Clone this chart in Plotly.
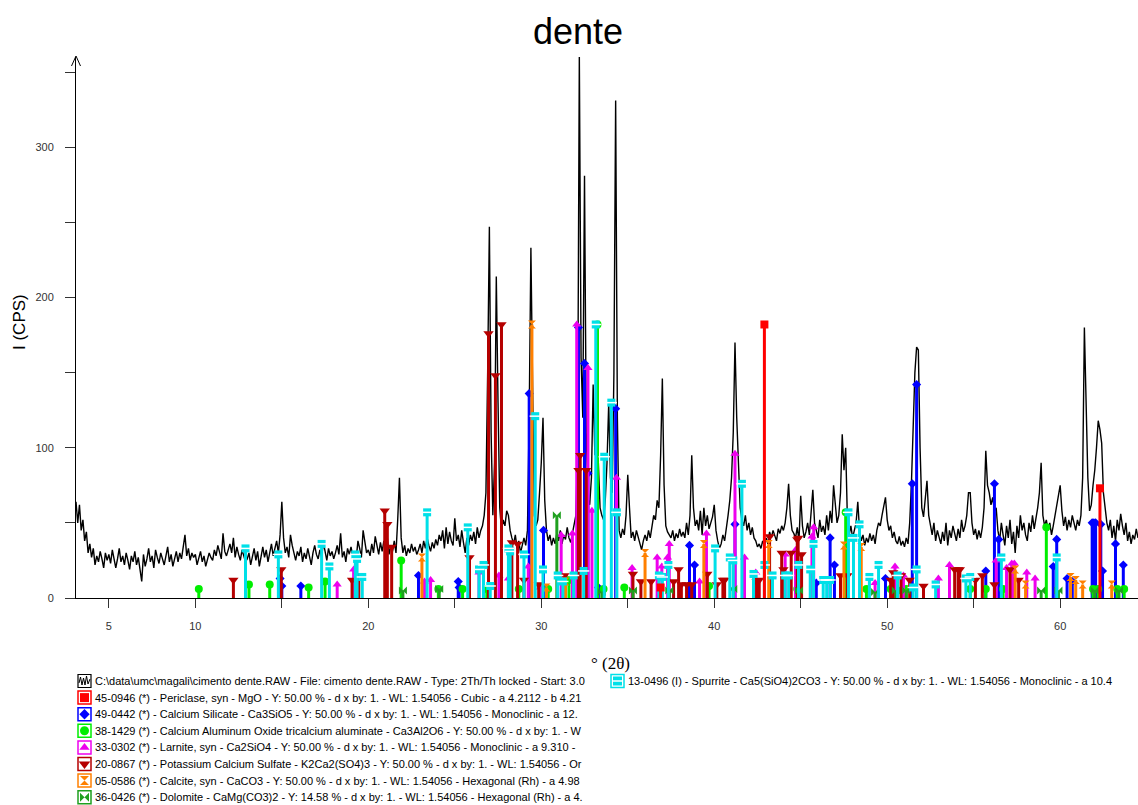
import plotly.graph_objects as go

# ---------------- data ----------------
SCAN_START = 3.0   # deg 2theta
SCAN_STEP = 0.1

intensity = (
    [58, 64, 50, 62, 45, 52, 38, 44, 30, 36] +      # 3.x
    [27, 33, 22, 28, 24, 31, 26, 20, 30, 25] +      # 4.x
    [29, 23, 32, 27, 20, 26, 33, 24, 28, 22] +      # 5.x
    [30, 25, 19, 28, 24, 31, 22, 27, 20, 11] +      # 6.x
    [29, 21, 26, 33, 24, 28, 20, 32, 27, 23] +      # 7.x
    [30, 25, 22, 28, 34, 24, 29, 21, 27, 31] +      # 8.x
    [24, 30, 26, 35, 42, 28, 33, 25, 30, 27] +      # 9.x
    [29, 22, 27, 31, 24, 28, 21, 26, 30, 27] +      # 10.x
    [25, 32, 28, 35, 30, 26, 43, 31, 28, 33] +      # 11.x
    [36, 30, 40, 27, 34, 29, 25, 32, 28, 24] +      # 12.x
    [26, 30, 22, 28, 33, 25, 31, 21, 29, 34] +      # 13.x
    [27, 32, 24, 30, 36, 28, 33, 38, 30, 42] +      # 14.x
    [64, 40, 30, 34, 27, 42, 35, 29, 25, 31] +      # 15.x
    [28, 34, 24, 30, 26, 33, 28, 22, 30, 35] +      # 16.x
    [29, 26, 32, 27, 37, 30, 25, 33, 28, 31] +      # 17.x
    [26, 30, 35, 29, 43, 27, 31, 24, 33, 29] +      # 18.x
    [34, 28, 31, 26, 38, 33, 27, 45, 36, 30] +      # 19.x
    [32, 28, 36, 30, 41, 34, 29, 37, 31, 38] +      # 20.x
    [33, 40, 29, 35, 31, 38, 30, 52, 80, 40] +      # 21.x
    [30, 35, 28, 33, 30, 36, 31, 34, 29, 32] +      # 22.x
    [36, 30, 38, 33, 40, 35, 31, 37, 33, 39] +      # 23.x
    [35, 42, 38, 45, 33, 47, 36, 44, 38, 35] +      # 24.x
    [53, 38, 42, 34, 45, 37, 30, 40, 35, 42] +      # 25.x
    [38, 44, 36, 47, 40, 45, 48, 55, 70, 150] +     # 26.x
    [247, 110, 55, 90, 214, 130, 60, 45, 52, 48] +  # 27.x
    [58, 55, 45, 40, 36, 42, 33, 38, 30, 35] +      # 28.x
    [40, 35, 45, 120, 233, 140, 55, 48, 52, 70] +   # 29.x
    [90, 120, 65, 45, 38, 42, 35, 40, 36, 43] +     # 30.x
    [38, 45, 36, 42, 39, 47, 40, 37, 44, 48] +      # 31.x
    [55, 100, 361, 160, 120, 281, 110, 66, 62, 80] +  # 32.x
    [142, 95, 165, 90, 60, 55, 52, 65, 90, 130] +   # 33.x
    [80, 70, 150, 331, 120, 45, 40, 46, 42, 55] +   # 34.x
    [82, 60, 40, 44, 38, 45, 40, 36, 32, 38] +      # 35.x
    [42, 38, 45, 40, 48, 55, 52, 65, 60, 95] +      # 36.x
    [146, 75, 48, 44, 42, 40, 45, 38, 43, 40] +     # 37.x
    [46, 41, 44, 40, 50, 42, 55, 95, 60, 48] +      # 38.x
    [52, 45, 58, 42, 60, 48, 55, 46, 50, 54] +      # 39.x
    [62, 45, 38, 33, 36, 42, 38, 45, 55, 65] +      # 40.x
    [80, 110, 170, 120, 83, 60, 52, 48, 55, 45] +   # 41.x
    [50, 42, 47, 40, 38, 34, 36, 33, 38, 35] +      # 42.x
    [40, 36, 44, 40, 45, 42, 38, 46, 43, 48] +      # 43.x
    [45, 50, 60, 76, 55, 45, 43, 40, 47, 38] +      # 44.x
    [68, 48, 40, 44, 50, 42, 55, 72, 50, 45] +      # 45.x
    [40, 52, 44, 48, 42, 55, 45, 58, 50, 75] +      # 46.x
    [60, 50, 55, 70, 109, 85, 100, 52, 42, 48] +    # 47.x
    [40, 45, 50, 64, 45, 38, 42, 35, 40, 37] +      # 48.x
    [43, 38, 42, 36, 45, 50, 48, 55, 60, 67] +      # 49.x
    [52, 45, 48, 40, 44, 38, 36, 41, 35, 38] +      # 50.x
    [34, 40, 36, 50, 76, 110, 150, 167, 165, 100] + # 51.x
    [60, 54, 65, 78, 55, 48, 42, 50, 38, 45] +      # 52.x
    [40, 36, 44, 38, 50, 35, 45, 40, 48, 42] +      # 53.x
    [38, 46, 40, 52, 44, 48, 55, 70, 70, 50] +      # 54.x
    [42, 46, 39, 45, 40, 47, 60, 98, 75, 70] +      # 55.x
    [62, 67, 58, 60, 45, 38, 50, 42, 35, 48] +      # 56.x
    [40, 52, 36, 44, 30, 48, 40, 55, 45, 50] +      # 57.x
    [42, 38, 50, 44, 55, 46, 52, 60, 70, 90] +      # 58.x
    [55, 48, 52, 45, 50, 42, 48, 55, 62, 68] +      # 59.x
    [75, 58, 48, 54, 45, 52, 47, 55, 50, 45] +      # 60.x
    [52, 48, 55, 80, 180, 118, 80, 58, 62, 75] +    # 61.x
    [85, 100, 118, 112, 103, 70, 58, 50, 45, 52] +  # 62.x
    [40, 48, 38, 52, 45, 56, 48, 42, 50, 38] +      # 63.x
    [44, 36, 42, 39, 46, 40]                        # 64.x
)
two_theta = [round(SCAN_START + SCAN_STEP * i, 2) for i in range(len(intensity))]

# reference patterns (2theta, scaled intensity)
periclase_pos = [36.9, 42.9, 62.3]
periclase_int = [7, 182, 73]

c3s_pos = [14.9, 15.0, 16.1, 22.9, 25.2, 25.25, 29.3, 30.13, 32.15, 32.5, 32.7, 33.3, 34.3,
           38.57, 38.86, 41.2, 45.9, 46.7, 46.95, 49.9, 51.45, 51.7, 55.7, 56.2, 56.45,
           59.6, 59.8, 60.4, 60.7, 61.85, 61.95, 62.05, 62.35, 62.45, 63.2, 63.65]
c3s_int = [13, 8, 8, 15, 11, 7, 136, 45, 180, 156, 83, 7, 126,
           35, 22, 49, 10, 40, 22, 13, 76, 142, 18, 76, 39,
           21, 39, 13, 11, 50, 50, 50, 49, 18, 36, 22]

c3a_pos = [10.2, 13.1, 14.3, 16.55, 17.5, 21.9, 24.05, 25.45, 26.85, 28.7, 30.4, 31.6, 33.25,
           33.6, 34.8, 39.7, 44.8, 47.6, 48.8, 50.2, 51.1, 54.8, 55.7, 56.7, 59.2, 61.9,
           62.2, 63.3, 63.7]
c3a_int = [6, 9, 9, 7, 11, 25, 6, 6, 6, 6, 6, 12, 182,
           6, 7, 8, 6, 57, 6, 6, 6, 6, 6, 6, 47, 6,
           6, 6, 6]

larnite_pos = [18.2, 19.15, 23.25, 23.6, 26.4, 27.55, 28.1, 29.25, 29.95, 31.15, 31.8, 32.05,
               32.7, 32.93, 34.35, 35.25, 36.7, 36.97, 37.3, 37.4, 39.15, 39.55, 41.2, 41.75,
               42.4, 43.34, 44.1, 44.7, 45.65, 45.75, 49.3, 50.45, 50.94, 52.96, 53.6, 56.3,
               56.9, 57.2, 57.35, 58.07, 58.55]
larnite_int = [9, 19, 11, 12, 17, 15, 13, 21, 7, 42, 43, 182,
               153, 58, 80, 20, 27, 21, 27, 36, 11, 43, 96, 27,
               17, 15, 29, 32, 41, 47, 10, 21, 15, 13, 22, 25,
               20, 23, 23, 17, 13]

kcs_pos = [12.2, 14.97, 19.06, 19.45, 20.95, 21.1, 21.35, 25.85, 26.95, 27.35, 27.7, 28.3,
           28.63, 29.0, 29.85, 31.35, 32.15, 32.25, 32.6, 35.3, 35.76, 36.35, 37.65, 37.94,
           38.1, 38.4, 38.7, 39.6, 40.15, 40.5, 40.6, 42.45, 42.6, 43.2, 43.9, 44.0, 44.45,
           44.8, 44.85, 45.05, 47.3, 47.7, 50.2, 50.35, 50.8, 51.3, 52.1, 53.9, 54.1, 54.2,
           55.1, 55.5, 56.2, 57.1, 57.6]
kcs_int = [12, 19, 12, 15, 58, 49, 34, 27, 176, 148, 182, 37,
           36, 12, 9, 15, 85, 95, 85, 16, 11, 11, 11, 19,
           9, 9, 9, 16, 9, 12, 12, 11, 12, 41, 30, 19, 30,
           39, 40, 29, 15, 15, 12, 17, 15, 12, 8, 19, 19, 19,
           12, 15, 9, 19, 12]

calcite_pos = [23.1, 29.46, 30.3, 31.4, 36.0, 39.4, 43.15, 47.5, 48.5, 57.4, 58.0, 60.6,
               60.9, 61.3, 62.98]
calcite_int = [27, 182, 7, 11, 30, 36, 36, 35, 34, 19, 9, 14, 12, 9, 9]

dolomite_pos = [22.0, 24.1, 30.9, 33.5, 35.3, 37.4, 41.1, 44.9, 49.3, 50.5, 51.1, 58.9,
                59.9, 62.0, 63.4]
dolomite_int = [5, 6, 55, 4, 5, 5, 6, 5, 4, 5, 5, 5, 5, 5, 5]

spurrite_pos = [12.9, 14.8, 17.3, 17.75, 19.25, 19.35, 19.65, 23.4, 25.75, 26.4, 26.66, 27.05,
                28.1, 28.2, 29.0, 29.65, 30.1, 30.95, 31.25, 31.87, 32.45, 33.15, 33.64, 34.05,
                34.37, 36.8, 37.0, 37.35, 40.05, 40.9, 41.1, 41.6, 42.27, 42.9, 43.37, 44.1,
                44.3, 44.87, 45.55, 45.74, 46.3, 46.5, 46.7, 47.76, 48.05, 48.4, 48.97, 49.5,
                50.6, 51.5, 51.7, 52.8, 54.55, 54.8, 56.6, 59.8]
spurrite_int = [33, 29, 36, 21, 29, 26, 14, 57, 47, 19, 22, 8,
                33, 31, 29, 121, 19, 15, 11, 15, 18, 182, 94, 130,
                57, 15, 14, 22, 33, 27, 25, 76, 16, 22, 15, 15,
                15, 22, 19, 36, 12, 12, 12, 57, 40, 49, 14, 22,
                15, 7, 19, 9, 13, 14, 27, 27]

legend_labels = [
    "C:\\data\\umc\\magali\\cimento dente.RAW - File: cimento dente.RAW - Type: 2Th/Th locked - Start: 3.0",
    "45-0946 (*) - Periclase, syn - MgO - Y: 50.00 % - d x by: 1. - WL: 1.54056 - Cubic - a 4.2112 - b 4.21",
    "49-0442 (*) - Calcium Silicate - Ca3SiO5 - Y: 50.00 % - d x by: 1. - WL: 1.54056 - Monoclinic - a 12.",
    "38-1429 (*) - Calcium Aluminum Oxide tricalcium aluminate - Ca3Al2O6 - Y: 50.00 % - d x by: 1. - W",
    "33-0302 (*) - Larnite, syn - Ca2SiO4 - Y: 50.00 % - d x by: 1. - WL: 1.54056 - Monoclinic - a 9.310 -",
    "20-0867 (*) - Potassium Calcium Sulfate - K2Ca2(SO4)3 - Y: 50.00 % - d x by: 1. - WL: 1.54056 - Or",
    "05-0586 (*) - Calcite, syn - CaCO3 - Y: 50.00 % - d x by: 1. - WL: 1.54056 - Hexagonal (Rh) - a 4.98",
    "36-0426 (*) - Dolomite - CaMg(CO3)2 - Y: 14.58 % - d x by: 1. - WL: 1.54056 - Hexagonal (Rh) - a 4.",
    "13-0496 (I) - Spurrite - Ca5(SiO4)2CO3 - Y: 50.00 % - d x by: 1. - WL: 1.54056 - Monoclinic - a 10.4",
]

x_tick_vals = [5, 10, 15, 20, 25, 30, 35, 40, 45, 50, 55, 60]
x_tick_text = ["5", "10", "", "20", "", "30", "", "40", "", "50", "", "60"]
y_tick_vals = [0, 50, 100, 150, 200, 250, 300, 350]
y_tick_text = ["0", "", "100", "", "200", "", "300", ""]

# ---------------- styling ----------------
W, H = 1138, 805
PL, PR, PT, PB = 76, 1138, 57, 598
FONT = "Liberation Sans, Arial, sans-serif"

phases = [
    dict(pos=c3s_pos, inten=c3s_int, color="#0000FF", symbol="diamond", size=7, label=2),
    dict(pos=c3a_pos, inten=c3a_int, color="#00EE00", symbol="circle", size=8, label=3),
    dict(pos=larnite_pos, inten=larnite_int, color="#EE00EE", symbol="triangle-up", size=8, label=4),
    dict(pos=kcs_pos, inten=kcs_int, color="#B50000", symbol="triangle-down", size=9, label=5),
    dict(pos=calcite_pos, inten=calcite_int, color="#FF8000", symbol="hourglass", size=8, label=6),
    dict(pos=dolomite_pos, inten=dolomite_int, color="#1FA01F", symbol="bowtie", size=8, label=7),
    dict(pos=spurrite_pos, inten=spurrite_int, color="#00E0E8", symbol="square", size=8, label=8),
    dict(pos=periclase_pos, inten=periclase_int, color="#FF0000", symbol="square", size=8, label=1),
]

fig = go.Figure()

fig.add_trace(go.Scatter(x=two_theta, y=intensity, mode="lines",
                         line=dict(color="black", width=1.4), hoverinfo="skip",
                         showlegend=False))

for ph in phases:
    xs, ys = [], []
    for p, v in zip(ph["pos"], ph["inten"]):
        xs += [p, p, None]
        ys += [0, v, None]
    fig.add_trace(go.Scatter(x=xs, y=ys, mode="lines",
                             line=dict(color=ph["color"], width=3),
                             hoverinfo="skip", showlegend=False))
    fig.add_trace(go.Scatter(x=ph["pos"], y=ph["inten"], mode="markers",
                             marker=dict(symbol=ph["symbol"], size=ph["size"], color=ph["color"],
                                         line=dict(width=0)),
                             hoverinfo="skip", showlegend=False))
    if ph["label"] == 8:
        fig.add_trace(go.Scatter(x=ph["pos"], y=ph["inten"], mode="markers",
                                 marker=dict(symbol="line-ew", size=8,
                                             line=dict(width=1.5, color="white")),
                                 hoverinfo="skip", showlegend=False))

# ---------------- legend (pixel overlay axes) ----------------
row_y = [681 + 16.6 * i for i in range(8)]
shapes = []
annotations = []

# black spectrum icon
shapes.append(dict(type="rect", xref="x2", yref="y2", x0=78, x1=91,
                   y0=row_y[0] - 6.5, y1=row_y[0] + 6.5, line=dict(color="black", width=1.2)))
zig = "M 79 {a} L 80.5 {b} L 82 {c} L 83.5 {d} L 85 {e} L 86.5 {f} L 88 {g} L 90 {h}".format(
    a=row_y[0] + 2, b=row_y[0] - 4, c=row_y[0] + 4, d=row_y[0] - 3, e=row_y[0] + 4,
    f=row_y[0] - 5, g=row_y[0] + 3, h=row_y[0] - 2)
shapes.append(dict(type="path", xref="x2", yref="y2", path=zig, line=dict(color="black", width=1)))
annotations.append(dict(xref="x2", yref="y2", x=93, y=row_y[0], text=legend_labels[0],
                        showarrow=False, xanchor="left", yanchor="middle",
                        font=dict(family=FONT, size=11, color="black")))

for ph in phases:
    k = ph["label"]
    if k == 8:
        cx, cy, tx = 617.5, row_y[0], 626
    else:
        cx, cy, tx = 84.5, row_y[k], 93
    shapes.append(dict(type="rect", xref="x2", yref="y2", x0=cx - 6.5, x1=cx + 6.5,
                       y0=cy - 6.5, y1=cy + 6.5, line=dict(color=ph["color"], width=1.5)))
    fig.add_trace(go.Scatter(x=[cx], y=[cy], xaxis="x2", yaxis="y2", mode="markers",
                             marker=dict(symbol=ph["symbol"], size=ph["size"] + 1, color=ph["color"],
                                         line=dict(width=0)),
                             cliponaxis=False, hoverinfo="skip", showlegend=False))
    if k == 8:
        fig.add_trace(go.Scatter(x=[cx], y=[cy], xaxis="x2", yaxis="y2", mode="markers",
                                 marker=dict(symbol="line-ew", size=9,
                                             line=dict(width=1.5, color="white")),
                                 cliponaxis=False, hoverinfo="skip", showlegend=False))
    annotations.append(dict(xref="x2", yref="y2", x=tx, y=cy, text=legend_labels[k],
                            showarrow=False, xanchor="left", yanchor="middle",
                            font=dict(family=FONT, size=11, color="black")))

# y axis arrow head
shapes.append(dict(type="path", xref="x2", yref="y2", path="M 71.5 66 L 76 56 L 80.5 66",
                   line=dict(color="black", width=1)))

# titles
annotations.append(dict(xref="x2", yref="y2", x=578, y=31, text="dente", showarrow=False,
                        xanchor="center", yanchor="middle",
                        font=dict(family=FONT, size=36, color="black")))
annotations.append(dict(xref="x2", yref="y2", x=19, y=322, text="I (CPS)", showarrow=False,
                        textangle=-90, xanchor="center", yanchor="middle",
                        font=dict(family=FONT, size=17, color="black")))
annotations.append(dict(xref="x2", yref="y2", x=610, y=663, text="° (2θ)", showarrow=False,
                        xanchor="center", yanchor="middle",
                        font=dict(family="Liberation Serif, Times New Roman, serif", size=17,
                                  color="black")))

fig.update_layout(
    width=W, height=H, autosize=False,
    margin=dict(l=0, r=0, t=0, b=0, pad=0, autoexpand=False),
    paper_bgcolor="white", plot_bgcolor="rgba(0,0,0,0)",
    showlegend=False,
    xaxis=dict(domain=[PL / W, PR / W], anchor="y", range=[3.1, 64.5],
               showgrid=False, zeroline=False, showline=True, linecolor="black", linewidth=1,
               ticks="outside", ticklen=9, tickwidth=1, tickcolor="#333333",
               tickvals=x_tick_vals, ticktext=x_tick_text, ticklabelstandoff=9,
               tickfont=dict(family=FONT, size=11, color="#333333")),
    yaxis=dict(domain=[(H - PB) / H, (H - PT) / H], anchor="x", range=[0, 360],
               showgrid=False, zeroline=False, showline=True, linecolor="black", linewidth=1,
               ticks="outside", ticklen=10, tickwidth=1, tickcolor="#333333",
               tickvals=y_tick_vals, ticktext=y_tick_text, ticklabelstandoff=9,
               tickfont=dict(family=FONT, size=11, color="#333333")),
    xaxis2=dict(domain=[0, 1], anchor="y2", range=[0, W], visible=False, fixedrange=True),
    yaxis2=dict(domain=[0, 1], anchor="x2", range=[H, 0], visible=False, fixedrange=True),
    shapes=shapes,
    annotations=annotations,
)

fig.write_html("out.html", config={"displayModeBar": False, "responsive": False},
               post_script="document.body.style.margin='0px';document.body.style.overflow='hidden';")
